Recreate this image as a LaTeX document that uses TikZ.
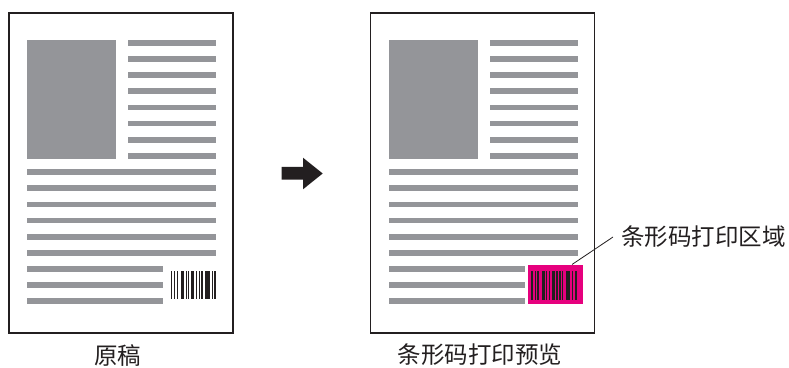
\documentclass[tikz,border=0pt]{standalone}
\usepackage{fontspec}
\newfontfamily\cjk{Noto Sans CJK SC}
\definecolor{txtgray}{RGB}{148,149,153}
\definecolor{pageline}{RGB}{35,31,32}
\definecolor{barmag}{RGB}{230,0,126}
\tikzset{
  pagebox/.style={draw=pageline, line width=1.4pt, fill=white},
  greybar/.style={fill=txtgray, draw=none},
  blackbar/.style={fill=pageline, draw=none},
  cjklabel/.style={font=\cjk\fontsize{23.5}{26}\selectfont, inner sep=0pt, text=pageline},
  leader/.style={draw=pageline, line width=0.8pt},
  pagecontent/.pic={
    \fill[greybar] (27,40) rectangle (116,159);
    \foreach \k in {0,...,7}{
      \fill[greybar] (128,{40+16.15*\k}) rectangle (216,{45.7+16.15*\k});
    }
    \foreach \k in {8,...,13}{
      \fill[greybar] (27,{40+16.15*\k}) rectangle (216,{45.7+16.15*\k});
    }
    \foreach \k in {14,...,16}{
      \fill[greybar] (27,{40+16.15*\k}) rectangle (163,{45.7+16.15*\k});
    }
  },
  barcodepic/.pic={
    \foreach \a/\b in {0/1.7,3.3/4.3,6/7.3,10.3/13.3,15/16,17.3/18.7,20.3/23.3,25/26.3,28/29.3,30.7/32,34.7/39,41/42,43.3/45.5}{
      \fill[blackbar] (\a,0) rectangle (\b,28.5);
    }
  }
}
\begin{document}
\begin{tikzpicture}[x=1pt,y=-1pt]
\useasboundingbox (0,0) rectangle (789,367);
% left page
\node[pagebox, minimum width=224pt, minimum height=320pt, inner sep=0pt] (orig) at (121,173) {};
\pic at (0,0) {pagecontent};
\pic at (170.5,270.5) {barcodepic};
% right page
\node[pagebox, minimum width=224.5pt, minimum height=320pt, inner sep=0pt] (prev) at (482.5,173) {};
\pic at (361.5,0) {pagecontent};
\node[fill=barmag, minimum width=54.5pt, minimum height=39pt, inner sep=0pt] (magbox) at (555.3,284.2) {};
\pic at (531.3,271) {barcodepic};
% arrow
\fill[pageline] (281.7,166.8) -- (303,166.8) -- (303,157.7) -- (322.7,173.5) -- (303,189.3) -- (303,179.6) -- (281.7,179.6) -- cycle;
% labels
\node[cjklabel, anchor=west] (lbl) at (621,237) {条形码打印区域};
\node[cjklabel] (cap1) at (117.5,356) {原稿};
\node[cjklabel] (cap2) at (480,355) {条形码打印预览};
\coordinate (lstart) at (572,264.5);
\draw[leader] (lstart) -- ([xshift=-8pt]lbl.west);
\end{tikzpicture}
\end{document}
